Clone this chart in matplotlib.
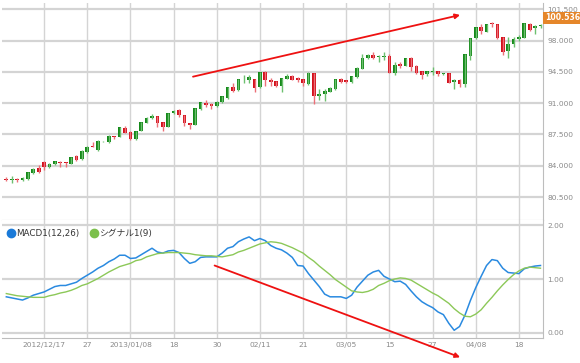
import matplotlib
matplotlib.use('Agg')
import numpy as np
import matplotlib.pyplot as plt
from matplotlib.lines import Line2D
import matplotlib.transforms as mtransforms

# ローソク足 (始値, 高値, 安値, 終値)
opens = [82.55, 82.40, 82.55, 82.35, 82.50, 83.20, 83.75, 84.40, 83.85, 84.15,
         84.45, 84.40, 84.20, 85.05, 84.70, 85.50, 86.25, 85.75, 86.72, 86.60,
         87.35, 87.25, 88.25, 87.80, 86.95, 87.90, 88.80, 89.30, 89.55, 88.90,
         88.35, 89.85, 90.20, 89.70, 88.75, 88.55, 90.30, 91.05, 90.90, 90.70,
         91.10, 91.60, 92.80, 92.45, 93.68, 93.55, 93.75, 92.75, 94.45, 93.60,
         93.50, 92.95, 93.75, 94.05, 93.80, 93.65, 93.10, 94.40, 91.80, 92.00,
         92.30, 92.60, 93.65, 93.55, 93.35, 93.95, 94.85, 96.00, 96.35, 96.20,
         96.20, 96.30, 94.35, 95.40, 95.20, 96.05, 95.10, 94.55, 94.25, 94.50,
         94.55, 94.25, 94.40, 93.35, 93.55, 93.10, 96.30, 98.25, 99.55, 99.00,
         99.95, 99.85, 98.35, 96.80, 97.60, 98.15, 98.30, 99.85, 99.45, 99.65]
highs = [82.70, 82.85, 82.65, 82.75, 83.35, 83.70, 84.05, 84.50, 84.25, 84.55,
         84.55, 84.40, 85.00, 85.15, 85.75, 86.20, 86.65, 86.85, 86.80, 87.40,
         87.35, 88.35, 88.45, 87.85, 87.90, 88.90, 89.40, 89.80, 89.55, 88.90,
         89.90, 90.20, 90.30, 89.70, 88.75, 90.50, 91.15, 91.30, 91.00, 91.20,
         91.85, 92.85, 93.25, 93.70, 94.15, 94.10, 93.75, 94.45, 94.55, 93.85,
         93.50, 93.80, 94.25, 94.10, 93.95, 93.65, 94.45, 94.40, 92.55, 92.55,
         92.75, 93.70, 93.80, 93.60, 94.05, 95.00, 96.50, 96.45, 96.75, 96.35,
         96.70, 96.50, 95.65, 95.65, 96.05, 96.20, 95.25, 94.65, 94.60, 95.00,
         94.65, 94.40, 94.40, 93.65, 93.75, 96.50, 98.25, 99.55, 99.80, 99.90,
         100.10, 99.85, 98.35, 98.35, 98.35, 98.60, 99.95, 99.95, 99.75, 99.90]
lows = [82.25, 82.10, 82.20, 82.30, 82.45, 83.10, 83.15, 83.55, 83.80, 84.10,
        83.85, 83.85, 84.20, 84.55, 84.65, 85.45, 86.05, 85.70, 86.70, 86.55,
        86.95, 87.20, 87.65, 86.90, 86.85, 87.85, 88.75, 89.20, 88.30, 87.85,
        88.30, 89.80, 89.40, 88.40, 88.15, 88.50, 90.25, 90.55, 90.40, 90.55,
        91.00, 91.45, 92.20, 92.40, 93.30, 93.30, 92.20, 92.70, 92.95, 92.95,
        92.75, 92.30, 93.75, 93.55, 93.35, 92.95, 93.00, 90.95, 91.35, 91.25,
        92.20, 92.50, 93.25, 93.30, 93.25, 93.85, 94.80, 95.95, 95.90, 95.60,
        95.80, 94.35, 94.20, 94.90, 95.10, 94.60, 94.30, 93.70, 94.05, 94.20,
        94.05, 94.20, 93.25, 92.60, 92.85, 92.75, 95.85, 98.20, 98.70, 98.95,
        99.55, 98.20, 96.40, 96.10, 97.30, 98.00, 98.25, 99.05, 98.70, 99.40]
closes = [82.40, 82.55, 82.35, 82.65, 83.25, 83.65, 83.35, 83.90, 84.20, 84.50,
          84.25, 84.25, 84.95, 84.65, 85.70, 86.15, 86.05, 86.80, 86.76, 87.35,
          87.20, 88.30, 87.70, 86.95, 87.90, 88.85, 89.35, 89.60, 88.80, 88.35,
          89.85, 90.15, 89.65, 88.75, 88.60, 90.50, 91.10, 90.75, 90.70, 91.15,
          91.85, 92.85, 92.40, 93.70, 93.75, 93.90, 92.65, 94.45, 93.60, 93.35,
          92.95, 93.80, 94.05, 93.60, 93.55, 93.20, 94.40, 91.85, 92.00, 92.35,
          92.70, 93.65, 93.35, 93.35, 94.05, 94.95, 96.10, 96.40, 96.10, 96.25,
          96.30, 94.35, 95.30, 95.20, 96.00, 95.00, 94.40, 94.20, 94.55, 94.60,
          94.25, 94.35, 93.25, 93.60, 93.15, 96.45, 98.25, 99.50, 99.05, 99.85,
          99.80, 98.25, 96.70, 97.65, 98.20, 98.35, 99.95, 99.20, 99.65, 99.70]

# MACD とシグナル
macd = [0.67, 0.65, 0.63, 0.61, 0.65, 0.70, 0.73, 0.76, 0.81, 0.86,
        0.88, 0.88, 0.91, 0.94, 1.01, 1.07, 1.13, 1.20, 1.25, 1.32,
        1.37, 1.44, 1.44, 1.38, 1.39, 1.45, 1.51, 1.57, 1.50, 1.48,
        1.52, 1.53, 1.49, 1.38, 1.29, 1.32, 1.40, 1.41, 1.41, 1.41,
        1.48, 1.57, 1.60, 1.69, 1.74, 1.78, 1.71, 1.75, 1.71, 1.62,
        1.57, 1.54, 1.48, 1.40, 1.25, 1.24, 1.10, 0.98, 0.86, 0.72,
        0.67, 0.67, 0.67, 0.64, 0.70, 0.85, 0.96, 1.07, 1.13, 1.16,
        1.05, 1.00, 0.95, 0.96, 0.90, 0.78, 0.67, 0.58, 0.52, 0.47,
        0.39, 0.34, 0.18, 0.05, 0.12, 0.33, 0.60, 0.84, 1.05, 1.25,
        1.36, 1.34, 1.20, 1.12, 1.11, 1.10, 1.19, 1.22, 1.24, 1.25]
signal = [0.73, 0.71, 0.69, 0.68, 0.67, 0.66, 0.66, 0.66, 0.69, 0.71,
          0.74, 0.76, 0.79, 0.83, 0.88, 0.91, 0.96, 1.01, 1.07, 1.13,
          1.18, 1.23, 1.26, 1.29, 1.34, 1.36, 1.41, 1.44, 1.47, 1.48,
          1.49, 1.49, 1.49, 1.48, 1.47, 1.45, 1.44, 1.43, 1.43, 1.42,
          1.41, 1.43, 1.45, 1.50, 1.53, 1.57, 1.61, 1.65, 1.67, 1.69,
          1.68, 1.66, 1.62, 1.58, 1.53, 1.48, 1.40, 1.33, 1.24, 1.16,
          1.08, 0.99, 0.92, 0.85, 0.78, 0.76, 0.75, 0.77, 0.81, 0.88,
          0.92, 0.97, 1.00, 1.02, 1.01, 0.98, 0.92, 0.86, 0.80, 0.74,
          0.69, 0.62, 0.55, 0.45, 0.37, 0.31, 0.30, 0.35, 0.43, 0.55,
          0.66, 0.78, 0.89, 0.99, 1.08, 1.15, 1.20, 1.22, 1.21, 1.20]

tick_pos = [7, 15, 23, 31, 39, 47, 55, 63, 71, 79, 87, 95]
tick_labels = ['2012/12/17', '27', '2013/01/08', '18', '30', '02/11',
               '21', '03/05', '15', '27', '04/08', '18']
price_ticks = [80.5, 84.0, 87.5, 91.0, 94.5, 98.0, 101.5]
macd_ticks = [0.0, 1.0, 2.0]
last_price = 100.536

up_col = '#15891a'
dn_col = '#d3101c'
grid_col = '#d4d4d4'
txt_col = '#8a8a8a'

x = np.arange(len(opens))
o = np.array(opens); c = np.array(closes)
h = np.array(highs); l = np.array(lows)
up = c >= o
cols = np.where(up, up_col, dn_col)
wick_cols = np.where(up, '#6cc06f', '#ec6f77')

fig = plt.figure(figsize=(5.8, 3.63), dpi=100)
ax1 = fig.add_axes([0.004, 1 - 220 / 363, 0.932, 217 / 363])
ax2 = fig.add_axes([0.004, 1 - 338 / 363, 0.932, 118 / 363])

for ax in (ax1, ax2):
    ax.set_xlim(-0.74, 99.44)
    ax.set_xticks(tick_pos)
    ax.grid(axis='x', color=grid_col, lw=1)
    ax.grid(axis='y', color=grid_col, lw=1.6)
    ax.set_axisbelow(True)
    ax.yaxis.tick_right()
    ax.tick_params(length=0, colors=txt_col, labelsize=5.4, pad=3)
    for s in ('top', 'left'):
        ax.spines[s].set_visible(False)
    for s in ('right', 'bottom'):
        ax.spines[s].set_color('#bdbdbd')

# 上段: ローソク足
ax1.vlines(x, l, h, colors=wick_cols, lw=1)
body_h = np.maximum(np.abs(c - o), 0.06)
ax1.bar(x, body_h, bottom=np.minimum(o, c), width=0.68, color=cols, lw=0)
ax1.set_ylim(77.93, 102.2)
ax1.set_yticks(price_ticks)
ax1.set_yticklabels(['%.3f' % v for v in price_ticks])
ax1.tick_params(axis='x', labelbottom=False)
trans = mtransforms.blended_transform_factory(ax1.transAxes, ax1.transData)
ax1.text(1.004, last_price, '%.3f' % last_price, transform=trans,
         fontsize=5.6, color='white', fontweight='bold', va='center', ha='left',
         bbox=dict(facecolor='#e5862a', edgecolor='none', pad=1.2))
ax1.annotate('', xy=(84.1, 100.86), xytext=(34.6, 93.96),
             arrowprops=dict(arrowstyle='-|>', color='#ee1111', lw=1.3,
                             mutation_scale=7, shrinkA=0, shrinkB=0))

# 下段: MACD
ax2.plot(x, macd, color='#2a8ae0', lw=1.1)
ax2.plot(x, signal, color='#8cc858', lw=1.0)
ax2.set_ylim(-0.093, 2.093)
ax2.set_yticks(macd_ticks)
ax2.set_yticklabels(['%.2f' % v for v in macd_ticks])
ax2.set_xticklabels(tick_labels)
ax2.annotate('', xy=(84.1, -0.45), xytext=(38.6, 1.25),
             arrowprops=dict(arrowstyle='-|>', color='#ee1111', lw=1.3,
                             mutation_scale=7, shrinkA=0, shrinkB=0),
             annotation_clip=False)

handles = [Line2D([], [], ls='none', marker='o', ms=6, color='#1a7ad8'),
           Line2D([], [], ls='none', marker='o', ms=6, color='#7cc04c')]
leg = ax2.legend(handles, ['MACD1(12,26)', 'シグナル1(9)'], ncol=2,
                 loc='upper left', bbox_to_anchor=(0.0, 0.97), frameon=False,
                 handlelength=0.8, handletextpad=0.2, columnspacing=1.2,
                 borderaxespad=0.2,
                 prop={'family': ['DejaVu Sans', 'Noto Sans CJK JP'], 'size': 6.3})
for t in leg.get_texts():
    t.set_color('#333333')

fig.savefig('out.png', dpi=100, facecolor='white')
